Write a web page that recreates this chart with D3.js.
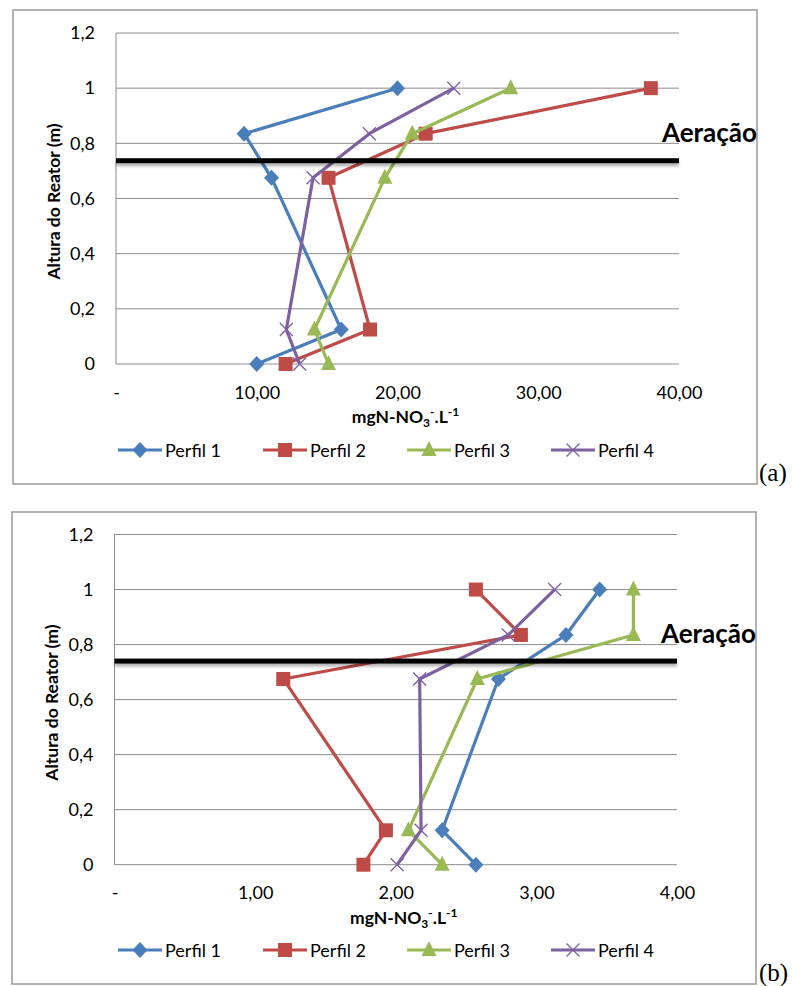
<!DOCTYPE html>
<html><head><meta charset="utf-8">
<script src="https://cdn.jsdelivr.net/npm/d3@7"></script>
<style>
body{margin:0;background:#fff;}
svg{display:block;font-family:Lato,"Open Sans",sans-serif;}
</style></head>
<body><svg id="c" width="793" height="986"></svg>
<script>
// ---- data ----
const heights = [1, 0.835, 0.675, 0.125, 0];
const seriesNames = ["Perfil 1", "Perfil 2", "Perfil 3", "Perfil 4"];
// chart (a) mgN-NO3-/L
const a_perfil1 = [20.0, 9.1, 11.05, 16.0, 10.0];
const a_perfil2 = [38.0, 22.0, 15.1, 18.05, 12.05];
const a_perfil3 = [28.05, 21.05, 19.1, 14.1, 15.1];
const a_perfil4 = [24.0, 18.0, 14.0, 12.1, 13.05];
// chart (b)
const b_perfil1 = [3.45, 3.21, 2.73, 2.33, 2.57];
const b_perfil2 = [2.57, 2.89, 1.20, 1.93, 1.77];
const b_perfil3 = [3.69, 3.69, 2.58, 2.09, 2.33];
const b_perfil4 = [3.13, 2.80, 2.17, 2.18, 2.01];
const a_xTicks = [0, 10, 20, 30, 40];
const a_xTickLabels = ["-", "10,00", "20,00", "30,00", "40,00"];
const b_xTicks = [0, 1, 2, 3, 4];
const b_xTickLabels = ["-", "1,00", "2,00", "3,00", "4,00"];
const yTicks = [0, 0.2, 0.4, 0.6, 0.8, 1, 1.2];
const yTickLabels = ["0", "0,2", "0,4", "0,6", "0,8", "1", "1,2"];
const aerationLevel = [0.737, 0.74];
const panelLabels = ["(a)", "(b)"];

// ---- style ----
const colors = ["#4A7EBB", "#BE4B48", "#98B954", "#7D60A0"];
const markers = ["diamond", "square", "triangle", "x"];

const svg = d3.select("#c");
const defs = svg.append("defs");
const f = defs.append("filter").attr("id","sh").attr("x","-5%").attr("y","-150%").attr("width","110%").attr("height","400%");
f.append("feDropShadow").attr("dx",0).attr("dy",3).attr("stdDeviation",1.4).attr("flood-color","#000").attr("flood-opacity",0.3);

function marker(g, type, x, y, color) {
  if (type === "diamond") {
    g.append("path").attr("d", `M${x},${y-8}L${x+7.5},${y}L${x},${y+8}L${x-7.5},${y}Z`).attr("fill", color);
  } else if (type === "square") {
    g.append("rect").attr("x", x - 7).attr("y", y - 7).attr("width", 14).attr("height", 14).attr("fill", color);
  } else if (type === "triangle") {
    g.append("path").attr("d", `M${x},${y-9}L${x+7.5},${y+6}L${x-7.5},${y+6}Z`).attr("fill", color);
  } else {
    g.append("path").attr("d", `M${x-6.5},${y-6.5}L${x+6.5},${y+6.5}M${x-6.5},${y+6.5}L${x+6.5},${y-6.5}`).attr("stroke", color).attr("stroke-width", 1.3).attr("fill", "none");
  }
}

function drawChart(cfg) {
  const g = svg.append("g");
  g.append("rect").attr("x", cfg.box[0]).attr("y", cfg.box[1]).attr("width", cfg.box[2]).attr("height", cfg.box[3])
    .attr("fill", "#fff").attr("stroke", "#9a9a9a").attr("stroke-width", 1.5);
  const x = d3.scaleLinear().domain([cfg.xTicks[0], cfg.xTicks[cfg.xTicks.length-1]]).range([cfg.left, cfg.right]);
  const y = d3.scaleLinear().domain([0, 1.2]).range([cfg.bottom, cfg.top]);
  // gridlines
  g.selectAll(".grid").data(yTicks).join("line")
    .attr("x1", cfg.left).attr("x2", cfg.right).attr("y1", d => y(d)).attr("y2", d => y(d))
    .attr("stroke", "#8c8c8c").attr("stroke-width", 1);
  g.append("line").attr("x1", cfg.left).attr("x2", cfg.left).attr("y1", y(1.2)).attr("y2", y(0)).attr("stroke", "#8c8c8c");
  // y axis labels
  const ya = d3.axisLeft(y).tickValues(yTicks).tickFormat((d, i) => yTickLabels[i]).tickSize(0).tickPadding(21);
  const yg = g.append("g").attr("transform", `translate(${cfg.left},0)`).call(ya);
  yg.select(".domain").remove();
  yg.selectAll("text").attr("font-size", 18).attr("font-family", "Lato").attr("fill", "#000");
  // x axis labels
  const xa = d3.axisBottom(x).tickValues(cfg.xTicks).tickFormat((d, i) => cfg.xTickLabels[i]).tickSize(0).tickPadding(22);
  const xg = g.append("g").attr("transform", `translate(0,${cfg.bottom})`).call(xa);
  xg.select(".domain").remove();
  xg.selectAll("text").attr("font-size", 18).attr("font-family", "Lato").attr("fill", "#000");
  // y title
  g.append("text").attr("transform", `translate(${cfg.left - 56.5},${(y(1.2) + y(0)) / 2 + 3}) rotate(-90)`)
    .attr("text-anchor", "middle").attr("font-weight", "bold").attr("font-size", 17.5).text("Altura do Reator (m)");
  // x title
  const xt = g.append("text").attr("x", (cfg.left + cfg.right) / 2 + 8).attr("y", cfg.bottom + 59)
    .attr("text-anchor", "middle").attr("font-weight", "bold").attr("font-size", 17.5);
  xt.append("tspan").text("mgN-NO");
  xt.append("tspan").attr("font-size", 12).attr("dy", 4).text("3");
  xt.append("tspan").attr("font-size", 12).attr("dy", -11).text("-");
  xt.append("tspan").attr("dy", 7).text(".L");
  xt.append("tspan").attr("font-size", 12).attr("dy", -7).text("-1");
  // series
  const line = d3.line().x(d => x(d[0])).y(d => y(d[1]));
  cfg.series.forEach((vals, i) => {
    const pts = vals.map((v, k) => [v, heights[k]]);
    g.append("path").attr("d", line(pts)).attr("fill", "none").attr("stroke", colors[i]).attr("stroke-width", 3.2)
      .attr("stroke-linejoin", "round");
    pts.forEach(p => marker(g, markers[i], x(p[0]), y(p[1]), colors[i]));
  });
  // aeration line
  g.append("rect").attr("x", cfg.left).attr("width", cfg.right - cfg.left).attr("y", y(cfg.aer) - 2.5).attr("height", 5)
    .attr("fill", "#000").attr("filter", "url(#sh)");
  g.append("text").attr("x", cfg.box[0] + cfg.box[2]).attr("y", y(cfg.aer) - 18.5).attr("text-anchor", "end")
    .attr("font-weight", "bold").attr("font-size", 26).text("Aeração");
  // legend
  const lx = [118, 263, 407, 551];
  seriesNames.forEach((n, i) => {
    const lg = g.append("g");
    lg.append("line").attr("x1", lx[i]).attr("x2", lx[i] + 44).attr("y1", cfg.legendY).attr("y2", cfg.legendY)
      .attr("stroke", colors[i]).attr("stroke-width", 3.2);
    marker(lg, markers[i], lx[i] + 22, cfg.legendY, colors[i]);
    lg.append("text").attr("x", lx[i] + 47).attr("y", cfg.legendY + 7).attr("font-size", 18).text(n);
  });
  // panel label
  g.append("text").attr("x", 759).attr("y", cfg.box[1] + cfg.box[3] - 3).attr("font-family", "Liberation Serif,serif")
    .attr("font-size", 25).text(cfg.label);
}

drawChart({box: [13, 10, 744, 474], left: 116, right: 679, top: 33, bottom: 364,
  xTicks: a_xTicks, xTickLabels: a_xTickLabels, series: [a_perfil1, a_perfil2, a_perfil3, a_perfil4],
  aer: aerationLevel[0], legendY: 450, label: panelLabels[0]});
drawChart({box: [12, 512, 744, 472], left: 114.5, right: 677, top: 534.5, bottom: 864.7,
  xTicks: b_xTicks, xTickLabels: b_xTickLabels, series: [b_perfil1, b_perfil2, b_perfil3, b_perfil4],
  aer: aerationLevel[1], legendY: 950, label: panelLabels[1]});
</script></body></html>
